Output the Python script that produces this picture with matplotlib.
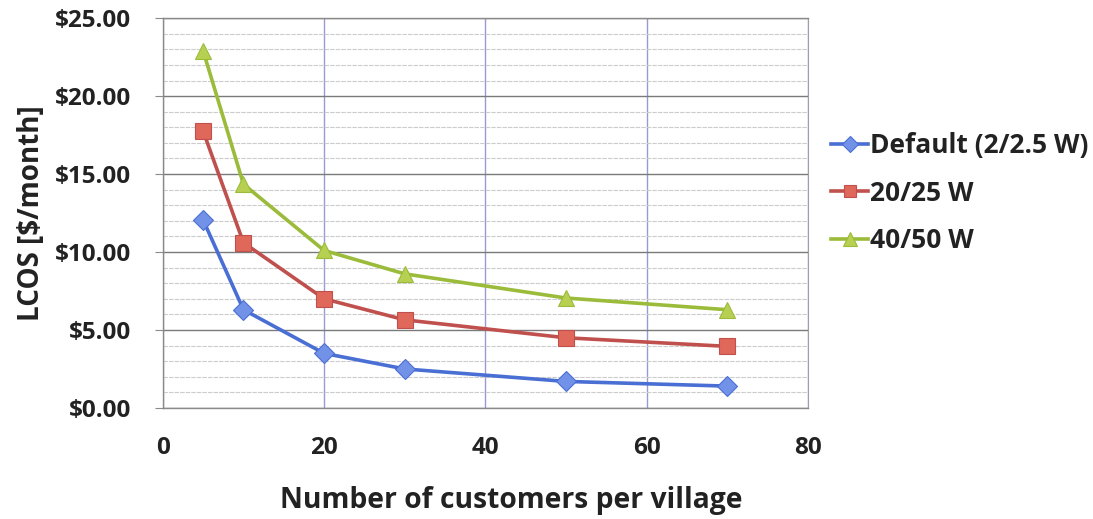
import matplotlib.pyplot as plt
from matplotlib.ticker import FuncFormatter, MultipleLocator

customers = [5, 10, 20, 30, 50, 70]
default_cost = [12.05, 6.3, 3.5, 2.5, 1.7, 1.4]
cost_20_25 = [17.75, 10.6, 7.0, 5.65, 4.5, 3.95]
cost_40_50 = [22.9, 14.35, 10.1, 8.6, 7.05, 6.3]
labels = ["Default (2/2.5 W)", "20/25 W", "40/50 W"]

plt.rcParams["font.family"] = ["Open Sans", "DejaVu Sans"]
plt.rcParams["font.weight"] = "bold"

fig = plt.figure(figsize=(10.93, 5.19), dpi=100)
ax = fig.add_axes([0.149, 0.214, 0.590, 0.751])

styles = [
    ("#4a6fd4", "#7292e8", "D", 10),
    ("#c0504d", "#e0685a", "s", 11),
    ("#9bbb3b", "#b7d052", "^", 12),
]
for series, label, (lc, mc, mk, ms) in zip([default_cost, cost_20_25, cost_40_50], labels, styles):
    ax.plot(customers, series, color=lc, lw=2.6, marker=mk, ms=ms,
            markerfacecolor=mc, markeredgecolor=lc, markeredgewidth=0.8,
            label=label, zorder=3)

ax.set_xlim(0, 80)
ax.set_ylim(0, 25)
ax.xaxis.set_major_locator(MultipleLocator(20))
ax.yaxis.set_major_locator(MultipleLocator(5))
ax.yaxis.set_minor_locator(MultipleLocator(1))
ax.yaxis.set_major_formatter(FuncFormatter(lambda v, p: f"${v:.2f}"))

ax.grid(axis="y", which="major", color="#7a7a7a", lw=1.0)
ax.grid(axis="y", which="minor", color="#cccccc", lw=0.8, ls=(0, (4, 1)))
ax.grid(axis="x", which="major", color="#9a9ad2", lw=1.0)
ax.set_axisbelow(True)

for side in ["left", "top", "bottom"]:
    ax.spines[side].set_color("#8a8a8a")
    ax.spines[side].set_linewidth(1.0)
ax.spines["right"].set_color("#a0a0a0")
ax.spines["right"].set_linestyle((0, (3, 1)))

ax.tick_params(axis="y", which="major", length=6, color="#8a8a8a", labelsize=17.5, pad=17)
ax.tick_params(axis="y", which="minor", length=0)
ax.tick_params(axis="x", length=0, labelsize=17.5, pad=20)
for t in ax.get_xticklabels() + ax.get_yticklabels():
    t.set_fontweight("bold")
    t.set_color("#222222")

ax.set_xlabel("Number of customers per village", fontsize=20.3, fontweight="bold",
              color="#222222")
ax.xaxis.set_label_coords(0.541, -0.2)
ax.set_ylabel("LCOS [$/month]", fontsize=20, fontweight="bold", color="#222222", labelpad=6)

leg = ax.legend(loc="center left", bbox_to_anchor=(1.0, 0.551), frameon=False,
                fontsize=19, handlelength=1.4, handletextpad=0.05, labelspacing=0.78,
                markerscale=0.8)
for t in leg.get_texts():
    t.set_fontweight("bold")
    t.set_color("#222222")

fig.savefig("out.png", dpi=100)
